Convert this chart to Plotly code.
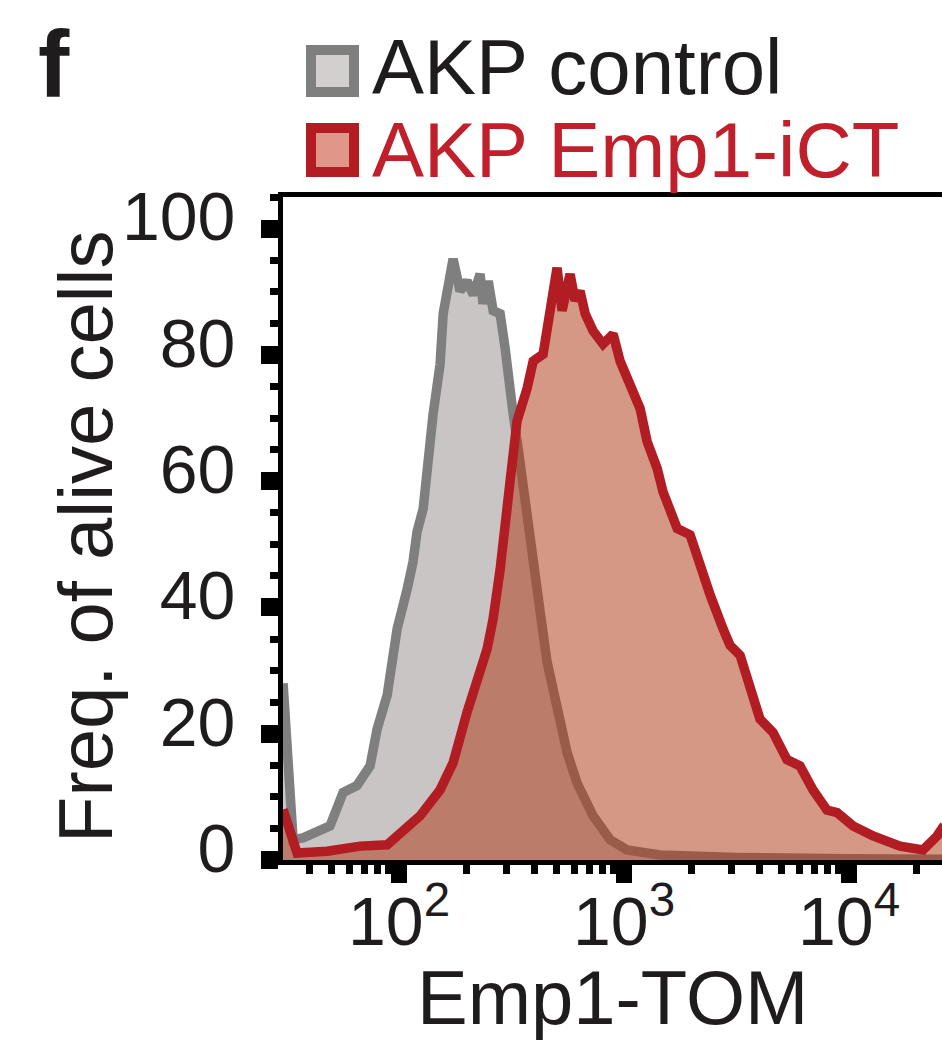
import plotly.graph_objects as go

# Emp1-TOM intensity (x) and frequency of alive cells (%)
control_x = [30.5, 33.8, 37.4, 44.6, 49.3, 56.4, 65.0, 74.3, 79.8, 88.5, 98.0, 108.6,
             115.3, 120.2, 127.9, 141.6, 152.1, 157.0, 173.8, 186.6, 200.4, 213.8,
             229.1, 236.0, 248.9, 261.8, 281.2, 295.8, 304.8, 321.4, 338.1, 355.6,
             382.0, 394.5, 423.6, 455.0, 503.5, 558.5, 618.0, 727.8, 867.0, 1030,
             1445, 3162, 10000, 26000]
control_y = [28.0, 3.2, 3.5, 4.8, 5.4, 10.7, 11.8, 14.9, 20.7, 26.1, 36.6, 42.9,
             47.2, 52.0, 55.6, 70.6, 78.5, 86.5, 95.2, 90.1, 91.7, 89.5,
             92.8, 88.1, 91.7, 87.0, 86.5, 81.1, 75.8, 70.6, 65.2, 59.9,
             52.0, 47.2, 39.3, 31.3, 23.4, 17.0, 12.2, 7.0, 3.2, 1.6,
             0.8, 0.4, 0.2, 0.1]

emp1_x = [30.5, 35.2, 47.9, 67.1, 88.5, 101.0, 124.0, 152.1, 173.8, 200.4, 222.2,
          246.0, 261.8, 281.2, 311.2, 334.3, 370.7, 394.5, 436.5, 469.0, 503.5,
          530.0, 575.4, 605.3, 637.0, 671.4, 727.8, 806.4, 893.4, 960.0, 1064,
          1178, 1265, 1403, 1490, 1722, 1965, 2178, 2411, 2754, 2958, 3280, 3631,
          4019, 4592, 5297, 6051, 6914, 7980, 8846, 10420, 12790, 16860, 21320,
          24600, 26500]
emp1_y = [8.0, 1.1, 1.4, 2.2, 2.4, 4.3, 7.0, 11.1, 15.4, 23.4, 28.6,
          33.4, 38.2, 46.0, 59.9, 69.5, 74.7, 79.0, 80.1, 87.4, 93.8,
          87.0, 92.8, 88.6, 90.1, 86.5, 83.8, 81.7, 83.3, 79.0, 74.7,
          71.5, 66.3, 62.0, 58.3, 52.5, 51.5, 46.4, 42.0, 36.6, 34.0, 32.4, 27.0,
          22.3, 20.2, 15.9, 14.9, 11.1, 7.9, 7.5, 5.4, 3.8, 2.2, 1.6,
          3.8, 5.5]

y_ticks = [0, 20, 40, 60, 80, 100]
x_ticks = [100, 1000, 10000]
x_ticktext = ["10<sup>2</sup>", "10<sup>3</sup>", "10<sup>4</sup>"]

FONT = "Arial, Liberation Sans, sans-serif"
INK = "#1f1c1d"
GRAY_LINE = "#7f7f7f"
GRAY_FILL = "rgb(200,197,196)"
RED_LINE = "#b11d23"
RED_FILL = "rgba(176,61,25,0.53)"
RED_TEXT = "#c0202b"

# plot area in pixels, used to place the free-standing labels
X0, X1, Y0, Y1 = 283, 942, 197, 860


def px(x):
    return (x - X0) / (X1 - X0)


def py(y):
    return (Y1 - y) / (Y1 - Y0)


fig = go.Figure()

fig.add_trace(
    go.Scatter(
        x=control_x,
        y=control_y,
        mode="lines",
        name="AKP control",
        fill="tozeroy",
        fillcolor=GRAY_FILL,
        line=dict(color=GRAY_LINE, width=9.5),
        showlegend=False,
    )
)

fig.add_trace(
    go.Scatter(
        x=emp1_x,
        y=emp1_y,
        mode="lines",
        name="AKP Emp1-iCT",
        fill="tozeroy",
        fillcolor=RED_FILL,
        line=dict(color=RED_LINE, width=9.5),
        showlegend=False,
    )
)

# legend squares
fig.add_shape(type="rect", xref="paper", yref="paper",
              x0=px(311), x1=px(354), y0=py(50), y1=py(92),
              line=dict(color=GRAY_LINE, width=10), fillcolor="#d2cfce")
fig.add_shape(type="rect", xref="paper", yref="paper",
              x0=px(311), x1=px(354), y0=py(128), y1=py(172),
              line=dict(color=RED_LINE, width=10), fillcolor="#e0978a")

annotations = [
    dict(text="<b>f</b>", x=px(36), y=py(64), xanchor="left", yanchor="middle",
         font=dict(size=94, color=INK)),
    dict(text="AKP control", x=px(370), y=py(67), xanchor="left", yanchor="middle",
         font=dict(size=78, color=INK)),
    dict(text="AKP Emp1-iCT", x=px(370), y=py(150), xanchor="left", yanchor="middle",
         font=dict(size=78, color=RED_TEXT)),
    dict(text="Freq. of alive cells", x=px(85), y=py(537), textangle=-90,
         xanchor="center", yanchor="middle", font=dict(size=76, color=INK)),
    dict(text="Emp1-TOM", x=px(612), y=py(997), xanchor="center", yanchor="middle",
         font=dict(size=76, color=INK)),
]
for a in annotations:
    a.update(xref="paper", yref="paper", showarrow=False)

fig.update_layout(
    width=942,
    height=1052,
    autosize=False,
    margin=dict(l=X0, r=0, t=Y0, b=1052 - Y1),
    plot_bgcolor="white",
    paper_bgcolor="white",
    font=dict(family=FONT, color=INK),
    showlegend=False,
    annotations=annotations,
)

fig.update_xaxes(
    type="log",
    range=[1.484, 4.413],
    tickvals=x_ticks,
    ticktext=x_ticktext,
    ticks="outside",
    ticklen=18,
    tickwidth=16,
    tickcolor="black",
    tickfont=dict(size=68, color=INK),
    ticklabelstandoff=-20,
    minor=dict(ticks="outside", ticklen=9, tickwidth=7, tickcolor="black", dtick="D1"),
    showline=True,
    linewidth=5,
    linecolor="black",
    mirror=True,
    showgrid=False,
    zeroline=False,
    automargin=False,
)

fig.update_yaxes(
    range=[0, 105],
    tickvals=y_ticks,
    ticks="outside",
    ticklen=17,
    tickwidth=18,
    tickcolor="black",
    tickfont=dict(size=68, color=INK),
    ticklabelstandoff=12,
    ticklabelshift=-12,
    minor=dict(ticks="outside", ticklen=8, tickwidth=7, tickcolor="black", dtick=5),
    showline=True,
    linewidth=5,
    linecolor="black",
    showgrid=False,
    zeroline=False,
    automargin=False,
)

# drop the default page margin so the figure sits flush in the window
fig.write_html(
    "out.html",
    config={"displayModeBar": False},
    post_script="document.body.style.margin = '0';",
)
